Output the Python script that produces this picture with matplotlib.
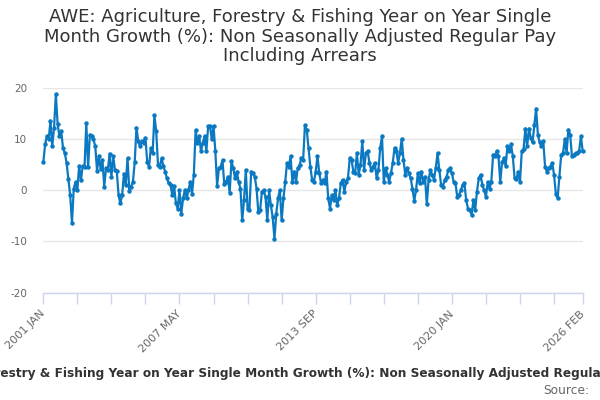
import numpy as np
import pandas as pd
import matplotlib
matplotlib.use('Agg')
import matplotlib.pyplot as plt

# ---- data ----
start_month = '2001-01'
seg_2001 = [5.4, 8.9, 10.5, 9.9, 13.5, 8.5, 12.2, 18.7, 12.8, 10.5, 11.5, 8.2, 7.2, 5.3, 2.1,
            -1.0, -6.4, 0.3, 1.6, 0.0, 4.7, 2.0, 4.7, 4.5, 13.0, 4.5, 10.8, 10.5, 9.9, 8.5,
            3.8, 6.6, 4.1, 5.9, 0.7, 4.3, 3.9, 7.1, 2.5, 6.6, 3.9, 3.7, -1.0, -2.6, -1.0]
seg_2004 = [3.2, 1.0, 6.2, -0.1, 0.7, 1.6, 5.4, 12.2, 9.5, 8.5, 9.5, 9.2, 10.2, 5.4, 4.6,
            8.2, 7.2, 14.6, 11.5, 4.9, 4.6, 6.2, 4.7, 3.6, 2.3, 1.3, 1.0, -1.0, 0.8, -2.6,
            -3.6, 0.0, -4.6, -1.6, 0.0, -1.6, 0.0, 1.6, -0.7, 3.0, 11.7, 9.2, 10.5, 7.6, 9.2,
            10.5, 7.6, 12.5, 12.5, 9.9, 12.5, 7.6, 0.8, 4.3, 4.6, 5.8, 1.1]
seg_2009 = [1.6, 2.6, -0.5, 5.6, 4.3, 2.3, 3.6, 1.6, 0.3, -5.9, -2.0, 3.9, -3.6, -3.9, 3.6,
            3.3, 2.6, 0.3, -4.3, -3.9, -0.3, 0.0, -1.3, -5.9, 0.0, -3.0, -5.3, -9.5, -4.6, -1.6,
            0.0, -5.9, -1.6, 1.6, 5.3, 4.6, 6.6, 1.6, 3.6, 1.6, 4.3, 4.9, 6.2, 5.9, 12.6,
            11.8, 8.2, 4.6, 2.0, 1.6]
seg_2013 = [3.6, 6.6, 3.3, 1.3, 2.0, 1.3, 3.6, -1.6, -3.6, -1.0, -2.0, 0.0, -3.0, -1.6, 1.3,
            2.0, -0.3, 1.6, 2.3, 6.2, 5.9, 3.6, 3.3, 7.2, 3.0, 4.9, 9.5, 3.9, 7.2, 7.6,
            5.3, 3.9, 4.6, 5.3, 2.3, 3.9, 8.2, 10.5, 1.6, 4.3, 3.0, 1.6, 3.3, 5.3]
seg_2017 = [8.2, 7.6, 5.3, 7.2, 10.0, 5.9, 3.0, 4.3, 3.3, 2.3, 0.3, -2.1, 0.0, 3.3, 1.3,
            3.6, 1.6, 2.6, -2.8, 2.0, 3.9, 3.0, 2.0, 4.3, 7.2, 3.9, 1.0, 0.7, 2.0, 2.6,
            3.9, 4.3, 3.3, 1.6, 1.3, -1.3, -1.0, 0.0, 1.0, 1.3, -2.0, -3.6, -3.9, -4.8, -2.0,
            -3.9, -0.3, 2.3, 3.0, 1.0, 0.0, -1.3, 1.6, 0.3, 1.6, 6.9]
seg_2022 = [6.7, 7.6, 6.6, 1.6, 5.4, 6.2, 4.7, 8.5, 7.6, 8.9, 6.6, 2.3, 2.1, 3.6, 1.6,
            7.6, 8.0, 12.0, 8.5, 12.0, 10.2, 9.3, 12.6, 15.9, 10.8, 9.3, 8.5, 9.5, 4.6, 3.6,
            4.3, 4.6, 5.3, 3.0, -0.7, -1.6, 2.6, 6.9, 7.2, 9.9, 7.2, 11.8, 10.8, 6.6, 6.9,
            7.2, 7.2, 7.6, 10.5, 7.6]
values = seg_2001 + seg_2004 + seg_2009 + seg_2013 + seg_2017 + seg_2022
y_ticks = [-20, -10, 0, 10, 20]
label_months = [0, 76, 152, 228, 301]
minor_step = 19

title = ("AWE: Agriculture, Forestry & Fishing Year on Year Single\n"
         "Month Growth (%): Non Seasonally Adjusted Regular Pay\n"
         "Including Arrears")
legend_text = ("AWE: Agriculture, Forestry & Fishing Year on Year Single Month Growth (%): "
               "Non Seasonally Adjusted Regular Pay Including Arrears")
legend_hidden_prefix = "AWE: Agriculture, For"
source_text = "Source:"

# ---- figure ----
W, H = 600, 400
fig = plt.figure(figsize=(W / 100, H / 100), dpi=100)
fig.patch.set_facecolor('white')
left, right, top, bottom = 43.3, 582.7, 87.5, 292.7
ax = fig.add_axes([left / W, 1 - bottom / H, (right - left) / W, (bottom - top) / H])

dates = pd.date_range(start_month, periods=len(values), freq='MS')
x = np.arange(len(values))
line_color = '#0a79c1'
ax.plot(x, values, color=line_color, lw=1.6, marker='o', ms=3.2,
        markeredgewidth=0, solid_joinstyle='round', clip_on=False, zorder=3)

ax.set_xlim(0, len(values) - 1)
ax.set_ylim(y_ticks[0], y_ticks[-1])
ax.set_yticks(y_ticks)
ax.set_yticklabels([str(v) for v in y_ticks])
ax.grid(axis='y', color='#e6e6e6', lw=1)
ax.set_axisbelow(True)
for s in ['left', 'right', 'top']:
    ax.spines[s].set_visible(False)
ax.spines['bottom'].set_color('#ccd6eb')
ax.spines['bottom'].set_linewidth(1)
ax.tick_params(axis='y', length=0, pad=11.5, labelsize=7.5, labelcolor='#666666')

ax.set_xticks(label_months)
ax.set_xticklabels([dates[m].strftime('%Y %b').upper() for m in label_months],
                   rotation=45, ha='right', va='center', rotation_mode='anchor')
ax.set_xticks([m for m in range(0, len(values), minor_step) if m not in label_months], minor=True)
ax.tick_params(axis='x', which='both', length=8, color='#ccd6eb', width=1,
               labelsize=8, labelcolor='#666666', pad=6)

fig.text(0.5, 1 - 8 / H, title, ha='center', va='top', fontsize=13,
         color='#333333', linespacing=1.12)

# legend line: clipped at both sides like the reference
fig.canvas.draw()
renderer = fig.canvas.get_renderer()
probe = fig.text(0, 0, legend_hidden_prefix, fontsize=8.7, fontweight='bold')
pw = probe.get_window_extent(renderer).width
probe.remove()
fig.text(-pw / W, 1 - 373 / H, legend_text, ha='left', va='center',
         fontsize=8.7, fontweight='bold', color='#333333')
fig.text(589 / W, 1 - 391 / H, source_text, ha='right', va='center',
         fontsize=8.8, color='#666666')

fig.savefig('out.png', dpi=100, facecolor='white')
